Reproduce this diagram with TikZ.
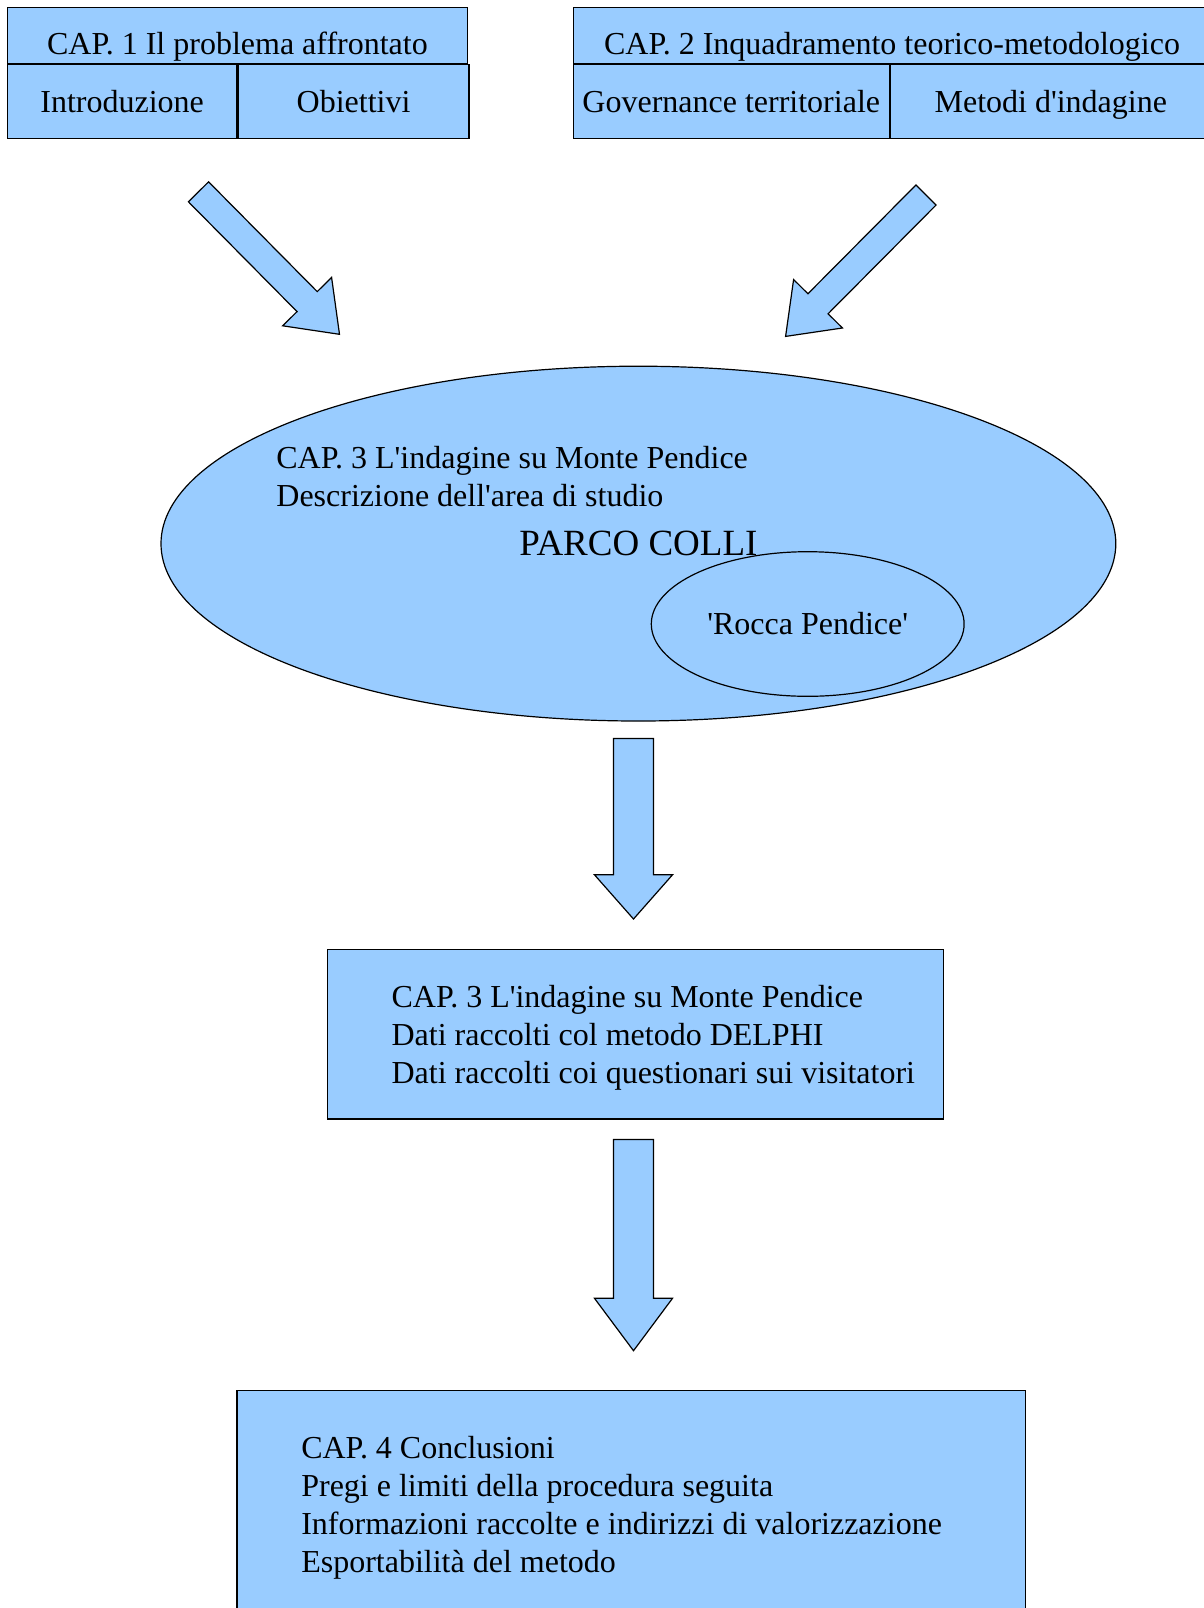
\documentclass[tikz,border=0pt]{standalone}
\usepackage{fontspec}
\setmainfont{Liberation Serif}
\usetikzlibrary{positioning,calc,shapes.geometric}
\definecolor{capblue}{RGB}{153,204,255}
\tikzset{
  cell/.style={draw=black,fill=capblue,line width=0.6pt,inner sep=0pt,
    font=\fontsize{16}{19}\selectfont},
  head/.style={cell,minimum height=28.2pt,text height=22pt,text depth=2.6pt},
  sub/.style={cell,minimum height=36.9pt,text height=14pt,text depth=3.5pt},
  txt/.style={inner sep=0pt,align=left,anchor=west,
    font=\fontsize{16}{19}\selectfont},
  blockarrow/.style={draw=black,fill=capblue,line width=0.6pt,line join=miter},
}
\newcommand{\fatarrow}[6]{%
  \coordinate (#1n) at ($(#3)!#6!(#2)$);
  \draw[blockarrow] ($(#2)!#4!90:(#3)$) -- ($(#1n)!#4!90:(#3)$)
    -- ($(#1n)!#5!90:(#3)$) -- (#3) -- ($(#1n)!#5!-90:(#3)$)
    -- ($(#1n)!#4!-90:(#3)$) -- ($(#2)!#4!-90:(#3)$) -- cycle;}
\newcommand{\ap}{\textquotesingle}

\begin{document}
\begin{tikzpicture}[x=0.5pt,y=-0.5pt]
  \useasboundingbox (0,0) rectangle (1204,1608);

  \node[head,minimum width=230.25pt] (cap1)
    at (237.45,35.4) {CAP. 1 Il problema affrontato};
  \node[sub,minimum width=114.9pt,
    below=0pt of cap1.south west,anchor=north west] (intro) {Introduzione};
  \node[sub,minimum width=115.35pt,right=0pt of intro] (obj) {Obiettivi};

  \node[head,minimum width=318.7pt] (cap2)
    at (892,35.4) {CAP. 2 Inquadramento teorico-metodologico};
  \node[sub,minimum width=157.95pt,
    below=0pt of cap2.south west,anchor=north west] (gov) {Governance territoriale};
  \node[sub,minimum width=160.4pt,right=0pt of gov] (met) {Metodi d\ap indagine};

  \coordinate (l1s) at (198.5,191.8);
  \coordinate (l1e) at (339.5,334.3);
  \coordinate (r1s) at (926,195);
  \coordinate (r1e) at (785.6,336.4);
  \fatarrow{l1}{l1s}{l1e}{7.1pt}{17.2pt}{23pt}
  \fatarrow{r1}{r1s}{r1e}{7.1pt}{17.2pt}{23pt}

  \node[ellipse,draw=black,fill=capblue,line width=0.6pt,inner sep=0pt,
    minimum width=477.4pt,minimum height=177.4pt,
    font=\fontsize{18.5}{22}\selectfont] (parco) at (638.4,543.6) {PARCO COLLI};
  \node[txt] (area) at (276,476.4)
    {CAP. 3 L\ap indagine su Monte Pendice\\Descrizione dell\ap area di studio};
  \node[ellipse,draw=black,fill=capblue,line width=0.6pt,inner sep=0pt,
    minimum width=156.4pt,minimum height=72.3pt,
    font=\fontsize{16}{19}\selectfont] (rocca) at (807.7,624) {\ap Rocca Pendice\ap};

  \coordinate (d1s) at (633.5,738.5);
  \coordinate (d1e) at (633.5,919);
  \fatarrow{d1}{d1s}{d1e}{10pt}{19.5pt}{22.1pt}

  \node[cell,minimum width=308.2pt,minimum height=84.65pt] (dati) at (635.4,1034.4) {};
  \node[txt] (datit) at ([xshift=32.3pt,yshift=-1.5pt]dati.west)
    {CAP. 3 L\ap indagine su Monte Pendice\\Dati raccolti col metodo DELPHI\\
     Dati raccolti coi questionari sui visitatori};

  \coordinate (d2s) at (633.5,1139.5);
  \coordinate (d2e) at (633.5,1350.7);
  \fatarrow{d2}{d2s}{d2e}{10pt}{19.5pt}{26.2pt}

  \node[cell,minimum width=394.35pt,minimum height=113.3pt] (concl) at (631.25,1504) {};
  \node[txt] (conclt) at ([xshift=32.3pt,yshift=-2pt]concl.west)
    {CAP. 4 Conclusioni\\Pregi e limiti della procedura seguita\\
     Informazioni raccolte e indirizzi di valorizzazione\\Esportabilità del metodo};
\end{tikzpicture}
\end{document}
